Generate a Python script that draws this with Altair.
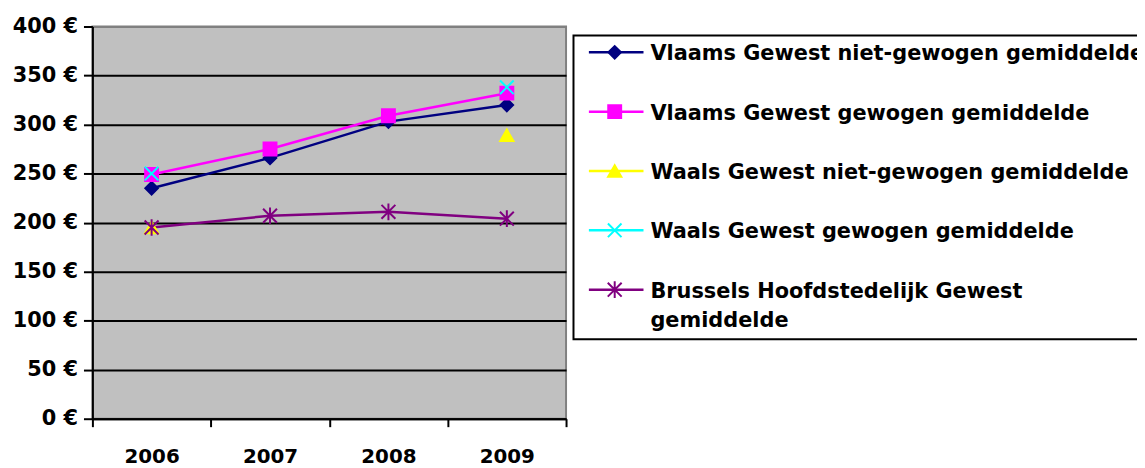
import altair as alt
import pandas as pd

years = [2006, 2007, 2008, 2009]
series_names = [
    "Vlaams Gewest niet-gewogen gemiddelde",
    "Vlaams Gewest gewogen gemiddelde",
    "Waals Gewest niet-gewogen gemiddelde",
    "Waals Gewest gewogen gemiddelde",
    "Brussels Hoofdstedelijk Gewest gemiddelde",
]
legend_labels = [
    "Vlaams Gewest niet-gewogen gemiddelde",
    "Vlaams Gewest gewogen gemiddelde",
    "Waals Gewest niet-gewogen gemiddelde",
    "Waals Gewest gewogen gemiddelde",
    "Brussels Hoofdstedelijk Gewest\ngemiddelde",
]
vlaams_niet_gewogen = [235, 266, 303, 320]
vlaams_gewogen = [249, 275, 309, 332]
waals_niet_gewogen = [195, None, None, 289]
waals_gewogen = [250, None, None, 338]
brussels = [195, 207, 211, 204]

colors = ["#000080", "#FF00FF", "#FFFF00", "#00FFFF", "#800080"]
shapes = ["diamond", "square", "triangle-up",
          "M-1,-1L1,1M-1,1L1,-1",
          "M-1,-1L1,1M-1,1L1,-1M0,-1.2L0,1.2"]
sizes = [160, 196, 180, 210, 190]

values_by_series = [vlaams_niet_gewogen, vlaams_gewogen, waals_niet_gewogen,
                    waals_gewogen, brussels]
rows = []
for name, vals in zip(series_names, values_by_series):
    for y, v in zip(years, vals):
        rows.append({"series": name, "year": y, "value": v})
df = pd.DataFrame(rows)

legend_df = pd.DataFrame({
    "series": series_names,
    "label": legend_labels,
    "idx": list(range(len(series_names))),
})

FONT = "DejaVu Sans"
FS = 21

color_scale = alt.Scale(domain=series_names, range=colors)
shape_scale = alt.Scale(domain=series_names, range=shapes)
size_scale = alt.Scale(domain=series_names, range=sizes)

x_enc = alt.X(
    "year:Q",
    scale=alt.Scale(domain=[2005.5, 2009.5], nice=False, zero=False),
    axis=alt.Axis(
        values=[2005.5, 2006.5, 2007.5, 2008.5, 2009.5],
        labelExpr="datum.value > 2009 ? '' : toString(datum.value + 0.5)",
        labelOffset=59.6,
        labelFlush=False,
        labelOverlap=False,
        labelBound=False,
        labelBaseline="top",
        labelPadding=20,
        labelFontSize=20,
        tickSize=8,
        grid=False,
        title=None,
    ),
)
y_enc = alt.Y(
    "value:Q",
    scale=alt.Scale(domain=[0, 400], nice=False),
    axis=alt.Axis(
        values=[0, 50, 100, 150, 200, 250, 300, 350, 400],
        labelExpr="datum.value + ' €'",
        labelFontSize=21,
        tickSize=9,
        labelPadding=6,
        grid=True,
        gridColor={"condition": {"test": "datum.value >= 400", "value": "#808080"},
                   "value": "black"},
        gridWidth=2,
        title=None,
    ),
)

lines = alt.Chart(df).mark_line(strokeWidth=2.5, invalid="break-paths-show-domains").encode(
    x=x_enc,
    y=y_enc,
    color=alt.Color("series:N", scale=color_scale, legend=None),
    detail="series:N",
)

points = alt.Chart(df).transform_filter("isValid(datum.value)").mark_point(
    filled=True, strokeWidth=2, opacity=1
).encode(
    x=x_enc,
    y=y_enc,
    color=alt.Color("series:N", scale=color_scale, legend=None),
    stroke=alt.Stroke("series:N", scale=color_scale, legend=None),
    shape=alt.Shape("series:N", scale=shape_scale, legend=None),
    size=alt.Size("series:N", scale=size_scale, legend=None),
)

main = alt.layer(lines, points)

leg_y = alt.Y("idx:Q", scale=alt.Scale(domain=[0, 4], range=[26, 265], nice=False, zero=False), axis=None)

box = alt.Chart(pd.DataFrame({"a": [0]})).mark_rect(
    fill="white", stroke="black", strokeWidth=2
).encode(
    x=alt.value(484.5), x2=alt.value(1080), y=alt.value(9), y2=alt.value(315)
)
leg_rules = alt.Chart(legend_df).mark_rule(strokeWidth=2.5).encode(
    x=alt.value(500), x2=alt.value(555), y=leg_y,
    color=alt.Color("series:N", scale=color_scale, legend=None),
)
leg_points = alt.Chart(legend_df).mark_point(filled=True, strokeWidth=2, opacity=1).encode(
    x=alt.value(526), y=leg_y,
    color=alt.Color("series:N", scale=color_scale, legend=None),
    stroke=alt.Stroke("series:N", scale=color_scale, legend=None),
    shape=alt.Shape("series:N", scale=shape_scale, legend=None),
    size=alt.Size("series:N", scale=size_scale, legend=None),
)
leg_text = alt.Chart(legend_df).mark_text(
    align="left", baseline="top", dy=-9, lineBreak="\n", lineHeight=30,
    font=FONT, fontSize=FS, fontWeight="bold", color="black"
).encode(
    x=alt.value(562), y=leg_y, text="label:N"
)
legend = alt.layer(box, leg_rules, leg_points, leg_text)

chart = alt.layer(main, legend).resolve_scale(y="independent").properties(
    width=477, height=395,
    padding={"left": 85, "top": 17, "right": 575, "bottom": 48},
    autosize=alt.AutoSizeParams(type="none"),
    background="white",
).configure_view(
    fill="#C0C0C0", stroke="#808080", strokeWidth=2
).configure_axis(
    labelFont=FONT, labelFontWeight="bold", labelColor="black",
    domainColor="black", domainWidth=2, tickColor="black", tickWidth=2,
)

chart.save("out.html", embed_options={"renderer": "svg", "actions": False})
